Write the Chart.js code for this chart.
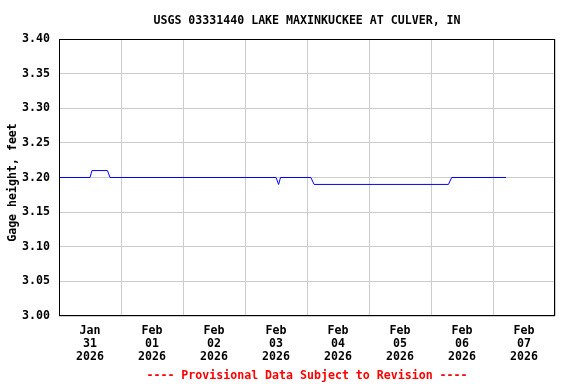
<!DOCTYPE html>
<html>
<head>
<meta charset="utf-8">
<script src="https://cdn.jsdelivr.net/npm/chart.js@4/dist/chart.umd.min.js"></script>
<style>
  html, body { margin: 0; padding: 0; background: #fff; }
  #wrap { width: 576px; height: 384px; }
</style>
</head>
<body>
<div id="wrap"><canvas id="gage"></canvas></div>
<script>
// hours since Jan 31 2026 00:00 and gage height (feet)
const hours  = [0,    12,   12.75, 18.75, 19.75, 84,   85,   85.75, 97.5, 98.75, 150.75, 152,  173];
const height = [3.20, 3.20, 3.21,  3.21,  3.20,  3.20, 3.19, 3.20,  3.20, 3.19,  3.19,   3.20, 3.20];
const dayLabels = [['Jan', '31', '2026'], ['Feb', '01', '2026'], ['Feb', '02', '2026'], ['Feb', '03', '2026'],
                   ['Feb', '04', '2026'], ['Feb', '05', '2026'], ['Feb', '06', '2026'], ['Feb', '07', '2026']];

const FONT = '"DejaVu Sans Mono", "Liberation Mono", monospace';

const extras = {
    id: 'extras',
    afterDraw(chart) {
        const c = chart.ctx, a = chart.chartArea;
        c.save();
        c.strokeStyle = '#000';
        c.lineWidth = 1;
        c.strokeRect(a.left + 0.5, a.top + 0.5, a.right - a.left - 1, a.bottom - a.top - 1);
        const cx = (a.left + a.right) / 2;
        c.font = 'bold 11.6px ' + FONT;
        c.textAlign = 'center';
        c.textBaseline = 'alphabetic';
        c.fillStyle = '#000';
        c.fillText('USGS 03331440 LAKE MAXINKUCKEE AT CULVER, IN', cx, 24);
        c.fillStyle = '#ff0000';
        c.fillText('---- Provisional Data Subject to Revision ----', cx, 379);
        c.translate(16, 182.5);
        c.rotate(-Math.PI / 2);
        c.fillStyle = '#000';
        c.fillText('Gage height, feet', 0, 0);
        c.restore();
    }
};

new Chart(document.getElementById('gage'), {
    type: 'line',
    data: {
        datasets: [{
            data: hours.map((h, i) => ({x: h, y: height[i]})),
            borderColor: '#0000ff',
            borderWidth: 1,
            pointRadius: 0,
            tension: 0,
            fill: false
        }]
    },
    options: {
        responsive: true,
        maintainAspectRatio: false,
        animation: false,
        layout: { padding: { top: 39, right: 21, left: 0, bottom: 0 } },
        plugins: {
            legend: { display: false },
            tooltip: { enabled: false },
            title: { display: false }
        },
        scales: {
            x: {
                type: 'linear',
                min: 0,
                max: 192,
                afterFit: s => { s.height = 68; },
                afterBuildTicks: s => {
                    const t = [];
                    for (let v = 0; v <= 192; v += 12) t.push({value: v});
                    s.ticks = t;
                },
                grid: {
                    drawTicks: false,
                    color: ctx => (ctx.tick && ctx.tick.value % 24 === 0) ? '#cccccc' : 'rgba(0,0,0,0)',
                    lineWidth: 1
                },
                border: { display: false },
                ticks: {
                    autoSkip: false,
                    maxRotation: 0,
                    padding: 8,
                    color: '#000',
                    font: { family: FONT, size: 11.6, weight: 'bold', lineHeight: 1.15 },
                    callback: v => (v % 24 === 12) ? dayLabels[(v - 12) / 24] : ''
                }
            },
            y: {
                min: 3.0,
                max: 3.4,
                afterFit: s => { s.width = 59; },
                grid: { drawTicks: false, color: '#cccccc', lineWidth: 1 },
                border: { display: false },
                ticks: {
                    stepSize: 0.05,
                    padding: 9,
                    color: '#000',
                    font: { family: FONT, size: 11.6, weight: 'bold' },
                    callback: v => v.toFixed(2)
                }
            }
        }
    },
    plugins: [extras]
});
</script>
</body>
</html>
